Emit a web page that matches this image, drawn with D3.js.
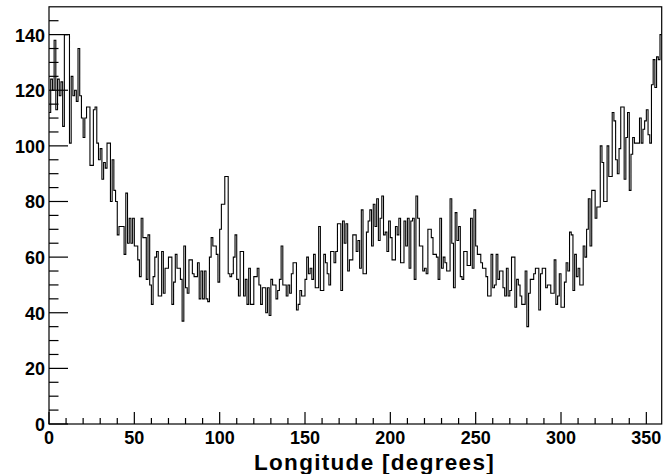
<!DOCTYPE html>
<html>
<head>
<meta charset="utf-8">
<script src="https://cdn.jsdelivr.net/npm/d3@7/dist/d3.min.js"></script>
<style>
  html, body { margin: 0; padding: 0; background: #fff; }
  svg { display: block; }
  text { font-family: "Liberation Sans", Arial, Helvetica, sans-serif; font-weight: bold; fill: #000; }
</style>
</head>
<body>
<svg id="chart" width="663" height="474"></svg>
<script>
// Longitude histogram, 1-degree bins from 0 to 359
const binStart = 0;
const binWidth = 1;
const counts = [
  112,124,120,138,113,124,118,123,107,140,
  140,140,101,125,118,120,116,135,118,110,
  103,110,114,114,93,93,113,114,101,95,
  99,88,94,92,101,101,80,95,84,80,
  68,71,71,71,61,83,65,74,65,74,
  64,64,59,53,74,67,67,52,68,50,
  43,53,60,62,46,46,62,47,56,56,
  60,60,43,51,61,56,56,52,37,64,
  49,47,59,59,54,53,53,58,45,55,
  45,55,45,44,60,67,64,64,61,51,
  70,79,79,89,89,54,53,54,60,68,
  52,46,62,62,46,52,43,56,43,43,
  53,53,56,50,43,49,49,40,49,39,
  52,50,50,45,48,52,64,50,50,46,
  50,47,54,58,58,41,43,48,46,46,
  52,60,54,56,52,61,49,49,71,48,
  48,61,58,54,50,62,62,58,62,72,
  72,48,73,65,72,55,59,59,68,68,
  62,66,56,77,54,54,69,73,77,64,
  79,71,81,66,74,82,68,69,62,73,
  67,59,59,71,68,74,58,58,73,64,
  74,56,73,74,52,82,74,64,64,55,
  56,54,70,70,67,61,61,60,52,74,
  56,60,58,55,55,81,65,49,76,66,
  71,53,52,62,62,57,57,74,56,77,
  64,61,61,58,56,56,53,46,46,61,
  49,50,61,52,55,55,49,46,56,46,
  48,60,60,42,52,50,46,43,43,55,
  35,47,52,52,54,56,56,41,54,56,
  56,49,50,50,47,47,59,43,46,54,
  42,42,51,58,55,69,68,48,61,53,
  56,50,50,64,60,70,81,64,84,84,
  74,78,78,100,94,80,80,100,89,89,
  112,109,95,90,99,114,114,88,103,112,
  84,97,103,101,101,101,110,101,106,109,
  113,104,101,122,131,121,132,131,140
];
const xDomain = [0, 359];
const yDomain = [0, 150];
const xTickLabels = [0, 50, 100, 150, 200, 250, 300, 350];
const yTickLabels = [0, 20, 40, 60, 80, 100, 120, 140];
const xTitle = "Longitude [degrees]";

const svg = d3.select("#chart");
const L = 49, R = 661.7, T = 6.8, B = 424;
const x = d3.scaleLinear().domain(xDomain).range([L, R]);
const y = d3.scaleLinear().domain(yDomain).range([B, T]);

svg.append("rect").attr("width", 663).attr("height", 474).attr("fill", "#fff");

// histogram outline
const pts = counts.map((c, i) => [binStart + i * binWidth, c]);
pts.push([binStart + counts.length * binWidth, counts[counts.length - 1]]);
const line = d3.line().x(d => x(d[0])).y(d => y(d[1])).curve(d3.curveStepAfter);
svg.append("path").attr("d", line(pts)).attr("fill", "none")
  .attr("stroke", "#000").attr("stroke-width", 1.1);

// frame
svg.append("rect").attr("x", L).attr("y", T).attr("width", R - L).attr("height", B - T)
  .attr("fill", "none").attr("stroke", "#000").attr("stroke-width", 1.2);

// x ticks (inside)
const xMinor = d3.range(0, 360, 10).filter(v => v <= xDomain[1]);
xMinor.forEach(v => {
  const major = v % 50 === 0;
  svg.append("line").attr("x1", x(v)).attr("x2", x(v))
    .attr("y1", B).attr("y2", B - (major ? 12 : 6))
    .attr("stroke", "#000").attr("stroke-width", 1.2);
});
// y ticks (inside)
const yMinor = d3.range(0, 150, 5);
yMinor.forEach(v => {
  const major = v % 20 === 0;
  svg.append("line").attr("y1", y(v)).attr("y2", y(v))
    .attr("x1", L).attr("x2", L + (major ? 19 : 9.5))
    .attr("stroke", "#000").attr("stroke-width", 1.2);
});

// labels
svg.selectAll(".xl").data(xTickLabels).enter().append("text")
  .attr("x", d => x(d)).attr("y", 443.5).attr("text-anchor", "middle")
  .attr("font-size", 18).text(d => d);
svg.selectAll(".yl").data(yTickLabels).enter().append("text")
  .attr("x", 45).attr("y", d => y(d) + 7).attr("text-anchor", "end")
  .attr("font-size", 18).text(d => d);

svg.append("text").attr("x", 495).attr("y", 469.5).attr("text-anchor", "end")
  .attr("font-size", 22.5).attr("letter-spacing", 1.3).text(xTitle);
</script>
</body>
</html>
